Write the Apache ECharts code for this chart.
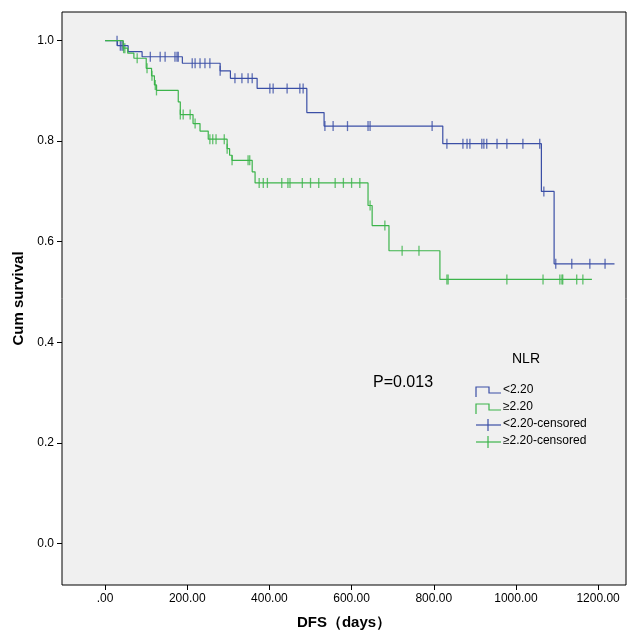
<!DOCTYPE html>
<html>
<head>
<meta charset="utf-8">
<script src="https://cdn.jsdelivr.net/npm/echarts@6/dist/echarts.min.js"></script>
<style>html,body{margin:0;padding:0;background:#fff}#chart{width:629px;height:635px}</style>
</head>
<body>
<div id="chart"></div>
<script>
// step curves: [day, survival after this day]
var lowSteps = [[0,1.0],[30,0.99],[56,0.978],[90,0.968],[188,0.955],[280,0.94],[305,0.925],[370,0.905],[491,0.857],[533,0.83],[822,0.795],[1062,0.70],[1093,0.556],[1240,0.556]];
var highSteps = [[0,1.0],[44,0.985],[55,0.975],[70,0.965],[100,0.945],[113,0.93],[120,0.912],[125,0.901],[178,0.878],[183,0.853],[214,0.835],[231,0.82],[251,0.804],[297,0.785],[303,0.772],[309,0.762],[358,0.739],[365,0.717],[640,0.672],[650,0.632],[691,0.582],[815,0.525],[1185,0.525]];
var lowCensor = [29,37,41,44,110,134,146,170,175,178,212,219,231,243,255,280,316,333,348,358,401,409,443,474,482,535,555,590,640,645,796,832,871,881,888,917,922,929,954,978,1017,1058,1068,1097,1136,1180,1217];
var highCensor = [45,48,78,102,114,122,125,183,190,207,219,255,262,270,290,297,309,348,352,375,385,395,430,445,450,480,500,520,560,580,600,620,645,681,723,764,832,835,978,1066,1107,1112,1114,1148,1163];
var xTicks = [0,200,400,600,800,1000,1200];
var yTicks = [0,0.2,0.4,0.6,0.8,1.0];
var legendNames = ['<2.20', '≥2.20', '<2.20-censored', '≥2.20-censored'];

function survAt(steps, d) {
  var s = steps[0][1];
  for (var i = 0; i < steps.length; i++) { if (steps[i][0] <= d) s = steps[i][1]; }
  return s;
}
function censorPts(steps, days) { return days.map(function (d) { return [d, survAt(steps, d)]; }); }

var blue = '#3b4fa6', green = '#3cb44b';
var legendColors = [blue, green, blue, green];
// hand-drawn legend (icons + text)
var legendGraphic = [];
legendNames.forEach(function (nm, i) {
  var y = 391 + i * 17, x = 476, c = legendColors[i];
  if (i < 2) {
    legendGraphic.push({ type: 'polyline', shape: { points: [[x, y + 6], [x, y - 4], [x + 13, y - 4], [x + 13, y + 2], [x + 25, y + 2]] }, style: { stroke: c, lineWidth: 1.2, fill: null } });
  } else {
    legendGraphic.push({ type: 'polyline', shape: { points: [[x, y], [x + 25, y]] }, style: { stroke: c, lineWidth: 1.2, fill: null } });
    legendGraphic.push({ type: 'polyline', shape: { points: [[x + 12, y - 6], [x + 12, y + 6]] }, style: { stroke: c, lineWidth: 1.2, fill: null } });
  }
  legendGraphic.push({ type: 'text', left: x + 27, top: y - 7, style: { text: nm, fontSize: 12, fill: '#000', fontFamily: 'Arial' } });
});

var myChart = echarts.init(document.getElementById('chart'));
var option = {
  animation: false,
  backgroundColor: '#fff',
  grid: { left: 62, right: 3, top: 12, bottom: 47, show: true, backgroundColor: '#f0f0f0', borderColor: '#000', borderWidth: 1 },
  xAxis: {
    type: 'value', min: -105, max: 1268,
    name: 'DFS（days）', nameLocation: 'middle', nameGap: 30,
    nameTextStyle: { fontSize: 15, fontWeight: 'bold', color: '#000', fontFamily: 'Arial' },
    axisLine: { show: false, onZero: false }, splitLine: { show: false },
    axisTick: { customValues: xTicks, length: 5, lineStyle: { color: '#000' } },
    axisLabel: { customValues: xTicks, color: '#000', fontSize: 12, formatter: function (v) { return v === 0 ? '.00' : v.toFixed(2); } }
  },
  yAxis: {
    type: 'value', min: -0.083, max: 1.057,
    name: 'Cum survival', nameLocation: 'middle', nameGap: 36,
    nameTextStyle: { fontSize: 15, fontWeight: 'bold', color: '#000', fontFamily: 'Arial' },
    axisLine: { show: false, onZero: false }, splitLine: { show: false },
    axisTick: { customValues: yTicks, length: 5, lineStyle: { color: '#000' } },
    axisLabel: { customValues: yTicks, color: '#000', fontSize: 12, formatter: function (v) { return v.toFixed(1); } }
  },
  graphic: [
    { type: 'text', left: 512, top: 352, style: { text: 'NLR', fontSize: 14, fill: '#000', fontFamily: 'Arial' } },
    { type: 'text', left: 373, top: 375, style: { text: 'P=0.013', fontSize: 16, fill: '#000', fontFamily: 'Arial' } }
  ].concat(legendGraphic),
  series: [
    { name: legendNames[0], type: 'line', step: 'end', data: lowSteps, symbol: 'none', lineStyle: { color: blue, width: 1.2 } },
    { name: legendNames[1], type: 'line', step: 'end', data: highSteps, symbol: 'none', lineStyle: { color: green, width: 1.2 } },
    { name: legendNames[2], type: 'scatter', data: censorPts(lowSteps, lowCensor), symbol: 'rect', symbolSize: [1.3, 10], itemStyle: { color: blue } },
    { name: legendNames[3], type: 'scatter', data: censorPts(highSteps, highCensor), symbol: 'rect', symbolSize: [1.3, 10], itemStyle: { color: green } }
  ]
};
option && myChart.setOption(option);
</script>
</body>
</html>
